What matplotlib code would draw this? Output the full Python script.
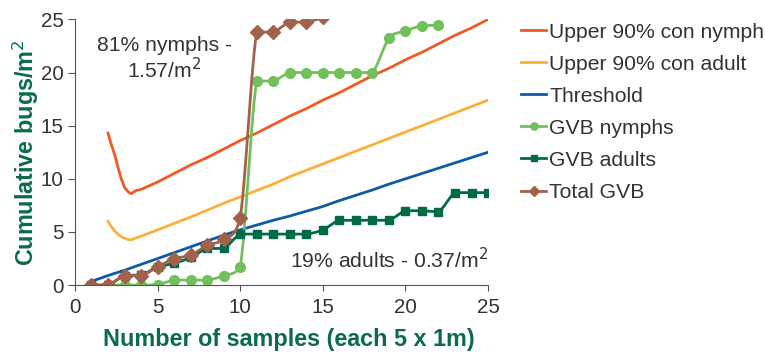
import numpy as np
import matplotlib
matplotlib.use("Agg")
import matplotlib.pyplot as plt

plt.rcParams['font.family'] = ['Liberation Sans', 'DejaVu Sans']

# Upper 90% confidence lines (fine steps near the start)
con_x = [2.0, 2.2, 2.4, 2.6, 2.8, 3.0, 3.2, 3.4, 3.7, 4, 5, 6, 7, 8, 9, 10, 11, 12,
         13, 14, 15, 16, 17, 18, 19, 20, 21, 22, 23, 24, 25]
upper_nymph = [14.3, 13.2, 12.3, 11.1, 10.0, 9.2, 8.8, 8.6, 8.9, 9.0, 9.7, 10.5, 11.3,
               12.0, 12.8, 13.6, 14.3, 15.1, 15.9, 16.6, 17.4, 18.1, 18.9, 19.7, 20.4,
               21.2, 21.9, 22.7, 23.5, 24.2, 25.0]
upper_adult = [6.0, 5.5, 5.1, 4.8, 4.55, 4.4, 4.3, 4.25, 4.45, 4.6, 5.2, 5.8, 6.4, 7.05,
               7.7, 8.3, 8.9, 9.5, 10.2, 10.8, 11.4, 12.0, 12.6, 13.2, 13.8, 14.4, 15.0,
               15.6, 16.2, 16.8, 17.4]

samples = list(range(1, 26))
threshold = [0.35, 0.9, 1.4, 1.95, 2.5, 3.05, 3.6, 4.15, 4.7, 5.2, 5.65, 6.1, 6.5, 6.95,
             7.4, 7.95, 8.45, 8.95, 9.5, 10.0, 10.5, 11.0, 11.5, 12.0, 12.5]
gvb_adults = [0, 0, 0.9, 0.95, 1.7, 2.05, 2.6, 3.45, 3.45, 4.8, 4.8, 4.8, 4.8, 4.8,
              5.2, 6.1, 6.1, 6.1, 6.1, 7.0, 7.0, 6.9, 8.7, 8.7, 8.7]

nymph_x = list(range(1, 23))
gvb_nymphs = [0, 0, 0, 0, 0.05, 0.47, 0.47, 0.47, 0.9, 1.72, 19.2, 19.2, 20.0, 20.0,
              20.0, 20.0, 20.0, 20.0, 23.2, 23.9, 24.4, 24.45]
total_gvb = [0, 0, 0.9, 0.9, 1.7, 2.5, 2.8, 3.75, 4.3, 6.35, 23.8, 23.8, 24.75, 24.75,
             25.2, 26.1, 26.1, 26.1, 29.3, 30.9, 31.4, 31.35]

legend_labels = ['Upper 90% con nymph', 'Upper 90% con adult', 'Threshold',
                 'GVB nymphs', 'GVB adults', 'Total GVB']

c_red = '#F15A24'
c_yel = '#FBB03B'
c_blue = '#0D5BA6'
c_lgreen = '#72C05B'
c_dgreen = '#006B4B'
c_brown = '#A0624A'
txt_green = '#0B6B4E'
txt = '#333333'


def smooth(x, y, n=14):
    # bezier curve through the points, control points kept between neighbours
    x = np.asarray(x, float)
    y = np.asarray(y, float)
    px = np.concatenate([[x[0]], x, [x[-1]]])
    py = np.concatenate([[y[0]], y, [y[-1]]])
    xs, ys = [], []
    t = np.linspace(0, 1, n)[:, None]
    for i in range(1, len(px) - 2):
        p0, p1, p2, p3 = (np.array([px[j], py[j]]) for j in range(i - 1, i + 3))
        c1 = p1 + (p2 - p0) / 6
        c2 = p2 - (p3 - p1) / 6
        lo, hi = min(p1[1], p2[1]), max(p1[1], p2[1])
        c1[1] = np.clip(c1[1], lo, hi)
        c2[1] = np.clip(c2[1], lo, hi)
        pts = (1 - t) ** 3 * p1 + 3 * (1 - t) ** 2 * t * c1 \
            + 3 * (1 - t) * t ** 2 * c2 + t ** 3 * p2
        xs.extend(pts[:, 0])
        ys.extend(pts[:, 1])
    return xs, ys


fig = plt.figure(figsize=(7.65, 3.52), dpi=100)
ax = fig.add_axes([0.098, 0.19, 0.54, 0.755])

ax.plot(con_x, upper_nymph, color=c_red, lw=2, label=legend_labels[0])
ax.plot(con_x, upper_adult, color=c_yel, lw=2, label=legend_labels[1])
ax.plot(samples, threshold, color=c_blue, lw=2, label=legend_labels[2])

for xv, yv, col, mk, ms, lab in [
        (nymph_x, gvb_nymphs, c_lgreen, 'o', 7, legend_labels[3]),
        (samples, gvb_adults, c_dgreen, 's', 6, legend_labels[4]),
        (nymph_x, total_gvb, c_brown, 'D', 7, legend_labels[5])]:
    sx, sy = smooth(xv, yv)
    ax.plot(sx, sy, color=col, lw=2)
    ax.plot(xv, yv, linestyle='none', marker=mk, ms=ms, color=col)
    ax.plot([], [], color=col, lw=2, marker=mk, ms=ms * 0.75, label=lab)

ax.set_xlim(0, 25)
ax.set_ylim(0, 25)
ax.set_xticks([0, 5, 10, 15, 20, 25])
ax.set_yticks([0, 5, 10, 15, 20, 25])
for s in ['top', 'right']:
    ax.spines[s].set_visible(False)
for s in ['left', 'bottom']:
    ax.spines[s].set_color('#555555')
ax.tick_params(colors='#555555', labelcolor=txt, labelsize=14.8, length=4)
ax.tick_params(axis='x', pad=5)
ax.tick_params(axis='y', length=5, pad=3)

ax.set_xlabel('Number of samples (each 5 x 1m)', fontsize=16.8, fontweight='bold',
              color=txt_green, labelpad=8)
ax.set_ylabel('Cumulative bugs/m$^2$', fontsize=16.8, fontweight='bold',
              color=txt_green, labelpad=0)
ax.xaxis.label.set_x(0.517)

ax.text(5.4, 21.3, '81% nymphs -\n1.57/m$^2$', ha='center', va='center',
        fontsize=15.2, color=txt, linespacing=1.1)
ax.text(25, 2.4, '19% adults - 0.37/m$^2$', ha='right', va='center',
        fontsize=15.2, color=txt)

handles, labels = ax.get_legend_handles_labels()
fig.legend(handles, labels, loc='upper left', bbox_to_anchor=(0.656, 0.99),
           frameon=False, fontsize=15.2, handlelength=1.2, handletextpad=0.15,
           labelspacing=0.62, labelcolor=txt)

fig.savefig('out.png', dpi=100)
